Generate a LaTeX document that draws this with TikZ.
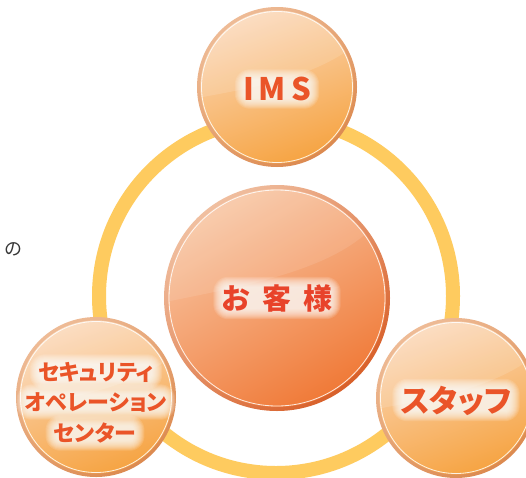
\documentclass[tikz,border=0pt]{standalone}
\usepackage{fontspec}
\newfontfamily\jp[RawFeature=+palt]{Noto Sans CJK JP}
\newfontfamily\jpn{Noto Sans CJK JP}
\usetikzlibrary{calc}
\pgfdeclarelayer{back}
\pgfdeclarelayer{front}
\pgfsetlayers{back,main,front}
\definecolor{ringc}{HTML}{FECB5F}
\definecolor{satL}{HTML}{FBD8B9}
\definecolor{satD}{HTML}{F6A443}
\definecolor{satRimL}{HTML}{EEBB96}
\definecolor{satRimD}{HTML}{DC8A50}
\definecolor{ctrL}{HTML}{F8C6A4}
\definecolor{ctrD}{HTML}{F07A38}
\definecolor{ctrRimL}{HTML}{F0BFA0}
\definecolor{ctrRimD}{HTML}{D8602A}
\definecolor{labc}{HTML}{EA5428}
\definecolor{ctrlab}{HTML}{E8432A}
% soft white halo behind a named text node (no text involved)
\newcommand\halo[1]{%
  \foreach \k in {8,7,...,-2} {%
    \fill[white, opacity=0.13, rounded corners=\k pt+7pt]
      ([shift={(-\k pt,-\k pt)}]#1.south west) rectangle ([shift={(\k pt,\k pt)}]#1.north east);
  }%
}
\tikzset{
  satrim/.style={circle, minimum size=160pt, inner sep=0pt, top color=satRimL, bottom color=satRimD, shading angle=35},
  satfill/.style={top color=satL, bottom color=satD, shading angle=20},
  ctrrim/.style={circle, minimum size=226pt, inner sep=0pt, top color=ctrRimL, bottom color=ctrRimD, shading angle=40},
  ctrfill/.style={top color=ctrL, bottom color=ctrD, shading angle=30},
  innerline/.style={draw=white, line width=0.8pt, opacity=0.85},
  satlab/.style={text=labc, font=\jp\bfseries\fontsize{31}{31}\selectfont, inner sep=0pt, text height=25pt, text depth=1pt},
  seclab/.style={text=labc, font=\jp\bfseries\fontsize{22}{22}\selectfont, inner sep=0pt, text height=18pt, text depth=1pt},
  imslab/.style={text=labc, font=\jpn\bfseries\fontsize{31}{31}\selectfont, inner sep=0pt, text height=23pt, text depth=0pt},
  ctrlabs/.style={text=ctrlab, font=\jpn\bfseries\fontsize{29}{29}\selectfont, inner sep=0pt, text height=24pt, text depth=2pt},
}
\begin{document}
\begin{tikzpicture}[x=1pt,y=-1pt]
\useasboundingbox (0,0) rectangle (526,477);

\begin{pgfonlayer}{back}
\fill[white] (0,0) rectangle (526,477);
% ring
\coordinate (rc) at (276,296);
\draw[ringc, line width=14pt] (rc) circle (177pt);

% centre circle
\node[ctrrim] (ctr) at (277,298) {};
\shade[ctrfill] (ctr.center) circle (109pt);
\begin{scope}
  \clip (ctr.center) circle (109pt);
  \fill[white, opacity=0.10] (160,303) .. controls (250,285) and (330,270) .. (372,228) -- (390,180) -- (160,180) -- cycle;
\end{scope}
\draw[innerline] (ctr.center) circle (108pt);

% satellites
\foreach \nm/\pos in {ims/{(277,87)}, sec/{(96,397)}, stf/{(456,398)}} {
  \node[satrim] (\nm) at \pos {};
  \shade[satfill] (\nm.center) circle (76.5pt);
  \begin{scope}
    \clip (\nm.center) circle (76.5pt);
    \fill[white, opacity=0.13] ($(\nm.center)+(-85,12)$) .. controls ($(\nm.center)+(-20,0)$) and ($(\nm.center)+(40,-10)$) .. ($(\nm.center)+(82,-45)$) -- ($(\nm.center)+(85,-85)$) -- ($(\nm.center)+(-85,-85)$) -- cycle;
  \end{scope}
  \draw[innerline] (\nm.center) circle (75.5pt);
}
\end{pgfonlayer}

% labels (front layer)
\begin{pgfonlayer}{front}
\node[font=\jpn\fontsize{18}{18}\selectfont, text=black!78, inner sep=0pt] (no) at (13.5,249) {の};
\node[imslab] (imsL) at (277,89) {I\hspace{5pt}M\hspace{5pt}S};
\node[ctrlabs] (ctrL) at (277,298) {お\hspace{12pt}客\hspace{12pt}様};
\node[seclab] (sec1) at (96,372) {セキュリティ};
\node[seclab] (sec2) at (96,402) {オペレーション};
\node[seclab] (sec3) at (95,433) {センター};
\node[satlab] (stfL) at (456,400) {スタッフ};
\end{pgfonlayer}

% halos between circles and text
\halo{imsL}
\halo{ctrL}
\halo{sec1}
\halo{sec2}
\halo{sec3}
\halo{stfL}
\end{tikzpicture}
\end{document}
